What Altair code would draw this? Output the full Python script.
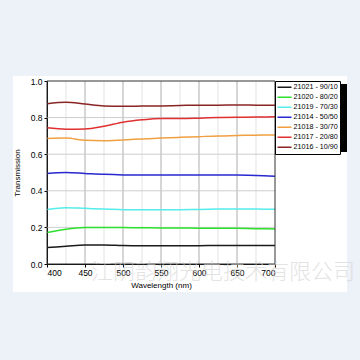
import altair as alt
import pandas as pd

wavelength = [400, 425, 450, 475, 500, 525, 550, 575, 600, 625, 650, 675, 700]
series_names = ["21021 - 90/10", "21020 - 80/20", "21019 - 70/30", "21014 - 50/50",
                "21018 - 30/70", "21017 - 20/80", "21016 - 10/90"]
series_colors = ["#1a1a1a", "#2ee02e", "#55ecec", "#2828d0", "#f0a040", "#e03030", "#8a2525"]
t_21021 = [0.090, 0.097, 0.104, 0.104, 0.101, 0.100, 0.100, 0.100, 0.100, 0.101, 0.101, 0.101, 0.101]
t_21020 = [0.172, 0.190, 0.199, 0.200, 0.199, 0.198, 0.197, 0.197, 0.196, 0.196, 0.195, 0.193, 0.191]
t_21019 = [0.298, 0.308, 0.304, 0.300, 0.297, 0.296, 0.296, 0.297, 0.298, 0.300, 0.301, 0.300, 0.299]
t_21014 = [0.494, 0.500, 0.495, 0.490, 0.487, 0.486, 0.486, 0.486, 0.487, 0.487, 0.486, 0.484, 0.480]
t_21018 = [0.686, 0.688, 0.676, 0.674, 0.678, 0.683, 0.688, 0.692, 0.696, 0.700, 0.702, 0.704, 0.705]
t_21017 = [0.744, 0.737, 0.738, 0.753, 0.775, 0.788, 0.795, 0.795, 0.797, 0.800, 0.802, 0.803, 0.804]
t_21016 = [0.876, 0.884, 0.874, 0.864, 0.862, 0.863, 0.864, 0.866, 0.868, 0.868, 0.869, 0.868, 0.867]
series_values = [t_21021, t_21020, t_21019, t_21014, t_21018, t_21017, t_21016]

x_ticks = [400, 450, 500, 550, 600, 650, 700]
y_ticks = [0.0, 0.2, 0.4, 0.6, 0.8, 1.0]
major_x = [450, 500, 550, 600, 650]
minor_x = [425, 475, 525, 575, 625, 675]
major_y = [0.2, 0.4, 0.6, 0.8]
watermark = "江阴韵翔光电技术有限公司"

rows = []
for name, vals in zip(series_names, series_values):
    for w, v in zip(wavelength, vals):
        rows.append({"Wavelength": w, "T": v, "Series": name})
df = pd.DataFrame(rows)

xscale = alt.Scale(domain=[400, 700], nice=False, zero=False)
yscale = alt.Scale(domain=[0, 1], nice=False)
XT = "Wavelength (nm)"
YT = "Transmission"
xaxis = alt.Axis(values=x_ticks, grid=False, tickSize=3, labelPadding=1, titlePadding=5,
                 labelOverlap=False)
yaxis = alt.Axis(values=y_ticks, format=".1f", grid=False, tickSize=3, labelPadding=2,
                 titlePadding=9, labelOverlap=False)

one = pd.DataFrame({"a": [0]})
OUTER = "#edf1f8"


def strip(x1, x2, y1, y2):
    return alt.Chart(one).mark_rect(color=OUTER).encode(
        x=alt.value(x1), x2=alt.value(x2), y=alt.value(y1), y2=alt.value(y2))


strips = [strip(-47, -34, -81, 279), strip(300, 313, -81, 279),
          strip(-47, 313, -81, -5), strip(-47, 313, 211, 279)]

shadow = alt.Chart(one).mark_rect(color="black").encode(
    x=alt.value(231), x2=alt.value(300), y=alt.value(3), y2=alt.value(71))

grid_minor = alt.Chart(pd.DataFrame({"x": minor_x})).mark_rule(
    color="#e3e3e3", strokeWidth=1).encode(
    x=alt.X("x:Q", scale=xscale, axis=xaxis, title=XT), y=alt.value(0), y2=alt.value(183))
grid_major = alt.Chart(pd.DataFrame({"x": major_x})).mark_rule(
    color="#c8c8c8", strokeWidth=1.5).encode(
    x=alt.X("x:Q", scale=xscale, axis=xaxis, title=XT), y=alt.value(0), y2=alt.value(183))
grid_h = alt.Chart(pd.DataFrame({"y": major_y})).mark_rule(
    color="#cdcdcd", strokeWidth=1).encode(
    y=alt.Y("y:Q", scale=yscale, axis=yaxis, title=YT), x=alt.value(0), x2=alt.value(228))

frame = alt.Chart(one).mark_rect(fillOpacity=0, stroke="#333333", strokeWidth=1).encode(
    x=alt.value(0), x2=alt.value(228), y=alt.value(0), y2=alt.value(183))

lines = alt.Chart(df).mark_line(strokeWidth=1.5, interpolate="monotone").encode(
    x=alt.X("Wavelength:Q", scale=xscale, title=XT, axis=xaxis),
    y=alt.Y("T:Q", scale=yscale, title=YT, axis=yaxis),
    color=alt.Color("Series:N", scale=alt.Scale(domain=series_names, range=series_colors),
                    legend=alt.Legend(orient="none", legendX=228, legendY=0, title=None,
                                      symbolType="stroke", symbolSize=196, symbolStrokeWidth=1.5,
                                      clipHeight=9.6, rowPadding=0, labelOffset=1,
                                      labelFontSize=7.2, labelFont="Liberation Sans",
                                      labelColor="black", fillColor="white",
                                      strokeColor="black", padding=1.5)),
    order=alt.Order("Wavelength:Q"),
)

wm = alt.Chart(one).mark_text(text=watermark, fontSize=22, font="Noto Sans CJK SC",
                             fontWeight=300, color="#d2d2d2", opacity=0.6, baseline="middle",
                             align="center").encode(x=alt.value(176), y=alt.value(191))

chart = alt.layer(*strips, shadow, grid_minor, grid_major, grid_h, lines, frame, wm).properties(
    width=228, height=183,
    autosize=alt.AutoSizeParams(type="none"),
    padding={"left": 47, "top": 81, "right": 85, "bottom": 96},
    background="white",
).configure_view(stroke=None).configure_axis(
    labelFont="Liberation Sans", labelFontSize=8.5, labelColor="black",
    titleFont="Liberation Sans", titleFontSize=8, titleFontWeight="normal", titleColor="black",
    domainColor="black", tickColor="black")

chart.save("out.html", embed_options={"renderer": "svg", "actions": False})
